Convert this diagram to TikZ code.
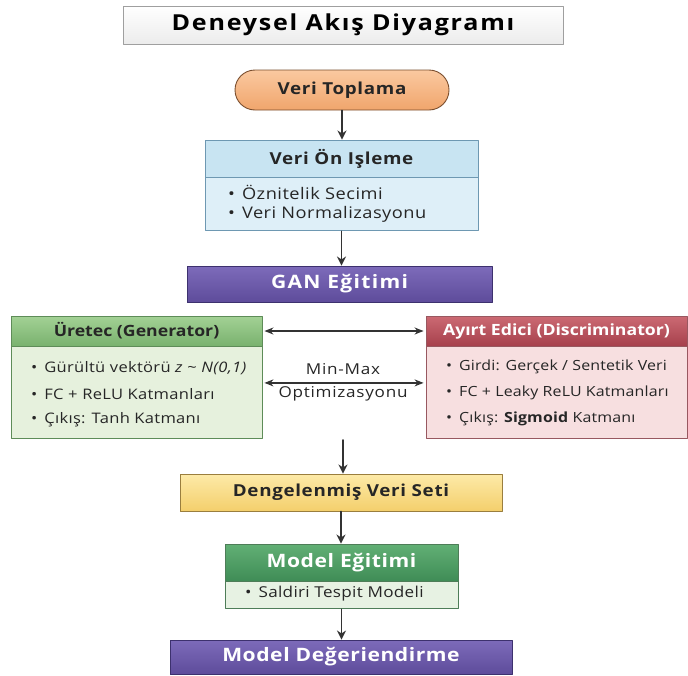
\documentclass[tikz,border=0pt]{standalone}
\usepackage{fontspec}
\setmainfont[FakeStretch=1.14]{Open Sans}
\usetikzlibrary{arrows.meta}
\definecolor{orT}{HTML}{FAC9A0}
\definecolor{orB}{HTML}{F0A56C}
\definecolor{orD}{HTML}{7A4E2E}
\definecolor{blH}{HTML}{C8E4F2}
\definecolor{blB}{HTML}{DEEFF8}
\definecolor{blD}{HTML}{6E98B2}
\definecolor{puT}{HTML}{7D6BBA}
\definecolor{puB}{HTML}{5E4C9B}
\definecolor{puD}{HTML}{3D316E}
\definecolor{grT}{HTML}{A3D195}
\definecolor{grB}{HTML}{79B26E}
\definecolor{grL}{HTML}{E6F1DD}
\definecolor{grD}{HTML}{5E8C58}
\definecolor{rdT}{HTML}{CC6A73}
\definecolor{rdB}{HTML}{A6404C}
\definecolor{rdL}{HTML}{F7DFE0}
\definecolor{rdD}{HTML}{985860}
\definecolor{yeT}{HTML}{FDEAA8}
\definecolor{yeB}{HTML}{F4CF6C}
\definecolor{yeD}{HTML}{9A7E3E}
\definecolor{meT}{HTML}{62B075}
\definecolor{meB}{HTML}{3F8C56}
\definecolor{meL}{HTML}{E7F2E3}
\definecolor{meD}{HTML}{4E7D58}
\newcommand\blt{\textbullet\hspace{7pt}}
\newcommand\fs[3]{\fontsize{#1}{#2}\selectfont\addfontfeature{LetterSpace=#3}}
\begin{document}
\begin{tikzpicture}[x=1pt,y=-1pt,>={Stealth[length=9pt,width=9pt]},line join=round,line cap=round,
	box/.style={draw,line width=0.9pt,inner sep=0pt},
	hd/.style={font=\bfseries\fs{16.5}{19}{4},text=black!85},
	hs/.style={font=\bfseries\fs{15.5}{18}{0},text=black!85},
	big/.style={font=\bfseries\fs{18.5}{21}{3},text=white},
	item/.style={anchor=west,inner sep=0pt,font=\fs{14}{17}{1},text=black!85},
	arr/.style={->,draw=black!80,line width=1.7pt},
	dbl/.style={<->,>={Stealth[length=9pt,width=7pt]},draw=black!80,line width=1.3pt,shorten <=2pt,shorten >=2pt}]
	\useasboundingbox (0,0) rectangle (688,675);
	\node[box,draw=gray!75,top color=white,bottom color=gray!15,minimum width=440pt,minimum height=38pt,
		font=\bfseries\fs{22}{25}{8}] (title) at (343,25) {Deneysel Akış Diyagramı};
	\node[box,rounded corners=20pt,draw=orD,top color=orT,bottom color=orB,minimum width=214pt,minimum height=40pt,hd] (top) at (342,90) {Veri Toplama};
	\node[box,draw=blD,fill=blH,minimum width=273pt,minimum height=37pt,hd] (preh) at (341.5,158.5) {Veri Ön Işleme};
	\node[box,draw=blD,fill=blB,minimum width=273pt,minimum height=53pt,anchor=north] (preb) at (preh.south) {};
	\node[item,font=\fs{16}{19}{3}] (p1) at (228,192) {\blt Öznitelik Secimi};
	\node[item,font=\fs{16}{19}{3}] (p2) at (228,214) {\blt Veri Normalizasyonu};
	\node[box,draw=puD,top color=puT,bottom color=puB,minimum width=305pt,minimum height=36pt,big,font=\bfseries\fs{18.5}{21}{7}] (gan) at (339.5,284) {GAN Eğitimi};
	% generator / discriminator
	\node[box,draw=grD,top color=grT,bottom color=grB,minimum width=251pt,minimum height=30pt,hs] (genh) at (136.5,331) {Üretec (Generator)};
	\node[box,draw=grD,fill=grL,minimum width=251pt,minimum height=92pt,anchor=north] (genb) at (genh.south) {};
	\node[box,draw=rdD,top color=rdT,bottom color=rdB,minimum width=261pt,minimum height=30pt,hs,text=white] (dish) at (556.5,331) {Ayırt Edici (Discriminator)};
	\node[box,draw=rdD,fill=rdL,minimum width=261pt,minimum height=92pt,anchor=north] (disb) at (dish.south) {};
	\foreach \t [count=\i] in {{\blt Gürültü vektörü \textit{z} \textasciitilde\ \textit{N(0,1)}},{\blt FC + ReLU Katmanları},{\blt Çıkış: Tanh Katmanı}}
		\node[item,font=\fs{14.5}{17}{2}] (g\i) at (31,342+26*\i) {\t};
	\foreach \t [count=\i] in {{\blt Girdi: Gerçek / Sentetik Veri},{\blt FC + Leaky ReLU Katmanları},{\blt Çıkış: \textbf{Sigmoid} Katmanı}}
		\node[item] (d\i) at (446,341+26*\i) {\t};
	\node[font=\fs{15}{18}{5},inner sep=0pt,text=black!85] (mm) at (343,369) {Min-Max};
	\node[font=\fs{15}{18}{5},inner sep=0pt,text=black!85] (opt) at (343,394) {Optimizasyonu};
	\draw[dbl] (genh.east) -- (dish.west);
	\draw[dbl] ([yshift=10pt]genb.east) -- ([yshift=10pt]disb.west);
	% lower part
	\node[box,draw=yeD,top color=yeT,bottom color=yeB,minimum width=322pt,minimum height=37pt,hd,font=\bfseries\fs{16.5}{19}{4}] (deng) at (341,492.5) {Dengelenmiş Veri Seti};
	\node[box,draw=meD,top color=meT,bottom color=meB,minimum width=233pt,minimum height=37pt,big] (meh) at (341.5,562.5) {Model Eğitimi};
	\node[box,draw=meD,fill=meL,minimum width=233pt,minimum height=27pt,anchor=north] (meb) at (meh.south) {};
	\node[item,font=\fs{15}{18}{2}] (m1) at (245,594) {\blt Saldiri Tespit Modeli};
	\node[box,draw=puD,top color=puT,bottom color=puB,minimum width=342pt,minimum height=34pt,big] (eval) at (341,657) {Model Değeriendirme};
	\coordinate (c) at (343,440);
	\draw[arr] (top.south) -- (top.south |- preh.north);
	\draw[arr] (preb.south) -- (preb.south |- gan.north);
	\draw[arr] (c) -- (c |- deng.north);
	\draw[arr] (deng.south) -- (deng.south |- meh.north);
	\draw[arr] (meb.south) -- (meb.south |- eval.north);
\end{tikzpicture}
\end{document}
